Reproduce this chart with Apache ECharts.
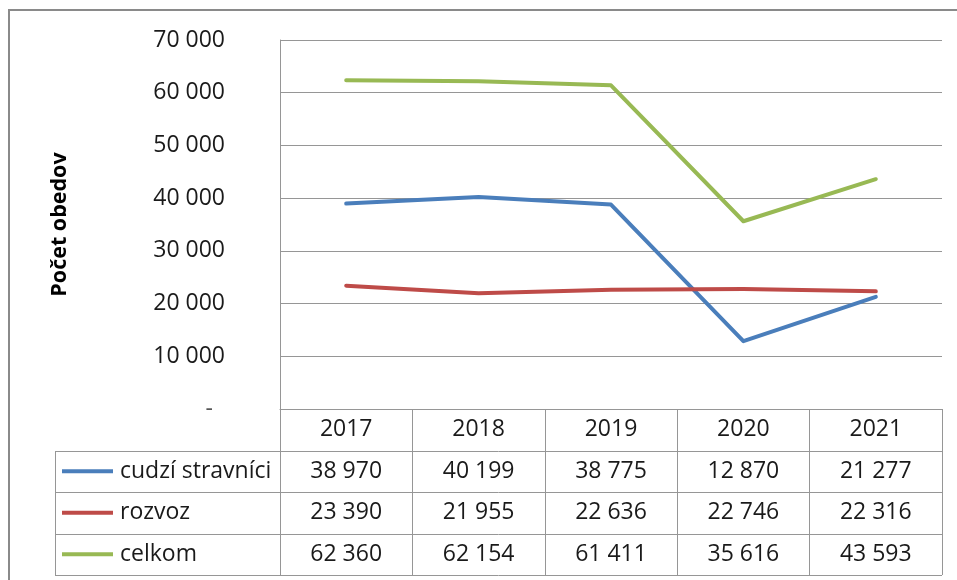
<!DOCTYPE html>
<html><head><meta charset="utf-8">
<script src="https://cdn.jsdelivr.net/npm/echarts@6/dist/echarts.min.js"></script>
<style>html,body{margin:0;padding:0;background:#fff}#c{width:957px;height:580px}</style>
</head><body><div id="c"></div>
<script>
var categories = ["2017", "2018", "2019", "2020", "2021"];
var seriesNames = ["cudzí stravníci", "rozvoz", "celkom"];
var cudziStravnici = [38970, 40199, 38775, 12870, 21277];
var rozvoz = [23390, 21955, 22636, 22746, 22316];
var celkom = [62360, 62154, 61411, 35616, 43593];
var yTicks = [0, 10000, 20000, 30000, 40000, 50000, 60000, 70000];

var FONT = "Open Sans";
var FS = 23;
var GRID_L = 280, GRID_R = 942, AXIS_Y = 409, ROW_H = 41.5, TABLE_L = 55;
var colors = ["#4A7EBB", "#BE4B48", "#98B954"];
var gray = "#969696";

function fmt(v) { return String(v).replace(/\B(?=(\d{3})+(?!\d))/g, " "); }

var rows = [cudziStravnici, rozvoz, celkom];
var xAxes = [{
  type: "category", data: categories, gridIndex: 0, position: "bottom",
  boundaryGap: true,
  axisLine: { show: true, lineStyle: { color: gray, width: 1 } },
  axisTick: { show: true, interval: 0, length: ROW_H * 4, lineStyle: { color: gray, width: 1 } },
  axisLabel: { interval: 0, margin: ROW_H / 2, verticalAlign: "middle", fontFamily: FONT, fontSize: FS, color: "#1a1a1a" }
}];
rows.forEach(function (arr, k) {
  xAxes.push({
    type: "category", data: categories, gridIndex: 0, position: "bottom",
    offset: ROW_H * (k + 1),
    axisLine: { show: false }, axisTick: { show: false }, splitLine: { show: false },
    axisLabel: {
      interval: 0, margin: ROW_H / 2, verticalAlign: "middle",
      fontFamily: FONT, fontSize: FS, color: "#1a1a1a",
      formatter: (function (a) { return function (val, idx) { return fmt(a[idx]); }; })(arr)
    }
  });
});

var graphics = [
  { type: "rect", shape: { x: 9, y: 10, width: 960, height: 580 }, style: { fill: "none", stroke: "#8a8a8a", lineWidth: 2 }, silent: true }
];
for (var r = 1; r <= 4; r++) {
  var y = Math.round(AXIS_Y + ROW_H * r) + 0.5;
  graphics.push({ type: "line", shape: { x1: TABLE_L, y1: y, x2: GRID_R, y2: y }, style: { stroke: gray, lineWidth: 1 }, silent: true });
}
graphics.push({ type: "line", shape: { x1: TABLE_L + 0.5, y1: Math.round(AXIS_Y + ROW_H) + 0.5, x2: TABLE_L + 0.5, y2: Math.round(AXIS_Y + ROW_H * 4) + 0.5 }, style: { stroke: gray, lineWidth: 1 }, silent: true });

var chart = echarts.init(document.getElementById("c"), null, { renderer: "canvas" });
chart.setOption({
  animation: false,
  color: colors,
  grid: { left: GRID_L, right: 957 - GRID_R, top: 40, bottom: 580 - AXIS_Y, containLabel: false },
  legend: {
    orient: "vertical", left: 62, top: AXIS_Y + ROW_H, padding: 0, itemGap: 0,
    icon: "rect", itemWidth: 51, itemHeight: 4,
    textStyle: { fontFamily: FONT, fontSize: FS, color: "#1a1a1a", lineHeight: ROW_H, padding: [0, 0, 0, 2] },
    data: seriesNames, selectedMode: false
  },
  xAxis: xAxes,
  yAxis: {
    type: "value", min: yTicks[0], max: yTicks[yTicks.length - 1], interval: 10000,
    axisLine: { show: true, lineStyle: { color: gray, width: 1 } },
    axisTick: { show: false },
    splitLine: { show: true, lineStyle: { color: gray, width: 1 } },
    axisLabel: {
      margin: 55, fontFamily: FONT, fontSize: FS, color: "#1a1a1a",
      formatter: function (v) { return v === 0 ? "{d|-}" : fmt(v); },
      rich: { d: { fontFamily: FONT, fontSize: FS, color: "#555", padding: [0, 12, 0, 0] } }
    },
    name: "Počet obedov", nameLocation: "middle", nameGap: 209, nameRotate: 90,
    nameTextStyle: { fontFamily: FONT, fontSize: 21.5, fontWeight: "bold", color: "#000" }
  },
  series: [
    { name: seriesNames[0], type: "line", data: cudziStravnici, symbol: "none", lineStyle: { width: 4, color: colors[0], join: "round", cap: "round" } },
    { name: seriesNames[1], type: "line", data: rozvoz, symbol: "none", lineStyle: { width: 4, color: colors[1], join: "round", cap: "round" } },
    { name: seriesNames[2], type: "line", data: celkom, symbol: "none", lineStyle: { width: 4, color: colors[2], join: "round", cap: "round" } }
  ],
  graphic: graphics
});
</script></body></html>
